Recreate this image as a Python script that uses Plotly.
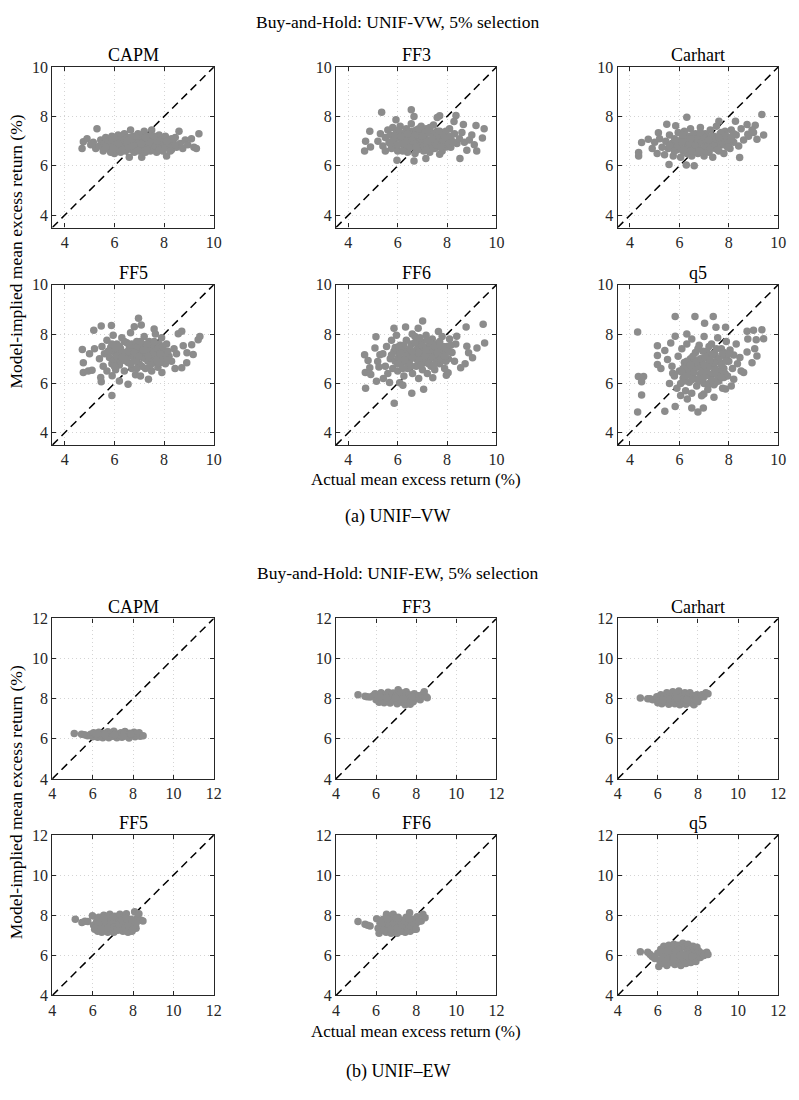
import plotly.graph_objects as go

models = ["CAPM", "FF3", "Carhart", "FF5", "FF6", "q5"]
tick_vw = [4, 6, 8, 10]
tick_ew = [4, 6, 8, 10, 12]
range_vw = [3.5, 10]
range_ew = [4, 12]

# ---------- Panel (a): UNIF-VW  (actual, model-implied) ----------
vw_capm = [(4.70,6.70),(4.75,6.98),(4.90,7.10),(5.05,6.85),(5.15,6.95),(5.30,7.50),(5.25,6.70),(5.40,6.80),(5.45,7.05),(5.55,6.60),
           (5.60,6.90),(5.65,7.15),(5.75,6.70),(5.80,7.00),(5.85,6.55),(5.90,7.20),(5.95,6.85),(6.00,6.50),(6.05,7.05),(6.10,6.75),
           (6.15,7.25),(6.20,6.95),(6.25,6.55),(6.30,7.10),(6.35,6.80),(6.40,7.30),(6.45,6.60),(6.50,6.95),(6.55,7.15),(6.60,6.35),
           (6.62,6.70),(6.65,7.45),(6.70,6.90),(6.75,7.20),(6.80,6.55),(6.85,7.00),(6.90,6.75),(6.95,7.30),(7.00,6.60),(7.05,6.95),
           (7.10,6.35),(7.10,7.15),(7.15,6.80),(7.20,7.40),(7.25,6.55),(7.30,7.00),(7.35,6.75),(7.40,7.20),(7.45,6.60),(7.50,7.45),
           (7.55,6.90),(7.60,6.70),(7.65,7.10),(7.70,6.55),(7.75,6.95),(7.80,7.25),(7.85,6.75),(7.90,7.05),(7.95,6.60),(8.00,6.90),
           (8.05,7.20),(8.10,6.40),(8.15,6.80),(8.20,7.05),(8.30,6.65),(8.35,6.95),(8.45,7.15),(8.50,6.75),(8.60,7.40),(8.65,6.90),
           (8.75,6.70),(8.85,7.05),(8.95,6.85),(9.10,7.10),(9.20,6.75),(9.30,6.70),(9.40,7.30),
           (6.00,6.90),(6.30,6.85),(6.60,7.05),(6.90,7.10),(7.20,6.70),(7.50,6.85),(7.80,6.85),(6.40,6.65),(7.00,6.85),(6.70,6.65),
           (7.30,6.85),(5.70,6.85),
           (5.65,6.75),(5.90,7.05),(6.05,6.70),(6.20,7.15),(6.30,6.62),(6.45,6.95),(6.55,6.75),(6.70,7.10),(6.80,6.80),(6.95,6.62),
           (7.05,7.20),(7.20,6.92),(7.30,6.65),(7.45,7.00),(7.55,7.20),(7.65,6.80),(7.80,6.65),(7.90,6.95),(8.05,6.72),(8.20,6.90),
           (8.30,7.10),(8.45,6.85),(6.15,6.90),(6.40,7.05),(6.85,7.20),(7.10,6.90),(7.40,6.95),(7.70,7.00),(8.10,7.00),(5.95,6.70),
           (6.50,7.00),(7.25,7.15),(6.00,7.15),(7.60,7.20),(8.25,6.60)]

vw_ff3 = [(5.35,8.17),(6.55,8.27),(4.66,6.60),(4.70,7.00),(4.87,7.40),(4.90,6.76),(5.97,6.23),(6.66,6.20),(7.14,6.30),(8.52,6.30),
          (8.80,6.63),(9.20,6.60),(9.50,7.50),(9.17,7.63),(8.66,7.67),(8.36,8.04),(7.70,8.03),(7.60,7.96),(8.28,7.80),(9.43,7.13),
          (7.97,6.76),(7.70,6.47),(5.93,7.87),(6.66,8.00),
          (5.20,7.00),(5.30,7.30),(5.40,6.80),(5.50,7.15),(5.50,6.60),(5.60,7.45),(5.65,6.95),(5.70,7.25),(5.75,6.70),(5.80,7.55),
          (5.85,7.05),(5.90,6.85),(5.95,7.35),(6.00,6.60),(6.05,7.15),(6.10,7.60),(6.15,6.90),(6.20,7.30),(6.25,6.70),(6.30,7.10),
          (6.35,7.50),(6.40,6.55),(6.45,6.95),(6.50,7.30),(6.55,7.70),(6.60,6.80),(6.65,7.15),(6.70,6.50),(6.75,7.45),(6.80,7.00),
          (6.85,6.70),(6.90,7.30),(6.95,7.60),(7.00,6.90),(7.05,6.60),(7.10,7.20),(7.15,7.50),(7.20,6.80),(7.25,7.05),(7.30,6.55),
          (7.35,7.35),(7.40,6.95),(7.45,7.65),(7.50,6.70),(7.55,7.15),(7.60,7.40),(7.65,6.85),(7.70,7.05),(7.80,6.60),(7.85,7.30),
          (7.90,6.90),(8.00,7.15),(8.10,7.50),(8.15,6.75),(8.20,7.00),(8.30,7.30),(8.40,6.90),(8.50,7.10),(8.60,7.35),(8.70,6.95),
          (8.90,7.05),(9.00,7.25),(9.10,6.85),
          (6.00,7.30),(6.30,6.85),(6.60,7.40),(6.90,6.95),(7.20,7.35),(7.50,7.00),(7.80,7.20),(6.40,7.15),(7.00,7.40),(7.30,6.80),
          (5.80,7.00),(6.70,6.90),(7.60,6.90),
          (5.70,6.90),(5.90,7.25),(6.00,6.85),(6.15,7.20),(6.20,6.60),(6.35,7.00),(6.45,7.40),(6.50,6.75),(6.60,7.00),(6.70,7.25),
          (6.80,6.65),(6.85,7.50),(6.95,7.10),(7.05,6.80),(7.10,7.35),(7.20,7.00),(7.30,7.55),(7.35,6.70),(7.45,7.20),(7.55,6.85),
          (7.60,7.20),(7.70,7.40),(7.75,6.75),(7.85,7.05),(7.95,7.40),(8.05,6.90),(8.15,7.20),(8.25,6.95),(6.05,7.45),(6.55,7.15),
          (7.00,7.20),(7.40,7.10),(7.90,7.15),(6.25,6.90),(6.75,6.75),(7.15,6.65),(6.40,7.30)]

vw_carhart = [(4.35,6.54),(4.35,6.40),(4.47,6.94),(4.74,7.08),(5.15,7.34),(5.49,7.68),(5.85,7.62),(6.30,7.97),(6.28,6.03),(5.58,6.05),
              (8.44,6.34),(9.34,8.08),(9.41,7.25),(9.14,7.08),(8.27,7.81),(7.60,7.81),(8.74,7.67),(9.07,7.64),(8.77,7.28),(8.94,7.45),
              (4.90,6.70),(5.00,6.95),(5.10,6.50),(5.20,7.10),(5.30,6.75),(5.40,6.45),(5.45,7.00),(5.55,6.70),(5.60,7.25),(5.70,6.90),
              (5.75,6.40),(5.80,7.10),(5.90,6.65),(5.95,7.35),(6.00,6.85),(6.05,6.35),(6.10,7.10),(6.15,6.60),(6.20,7.40),(6.25,6.95),
              (6.30,6.50),(6.35,7.20),(6.40,6.75),(6.45,7.50),(6.50,6.40),(6.55,7.00),(6.60,6.00),(6.60,6.70),(6.65,7.30),(6.70,6.90),
              (6.75,6.50),(6.80,7.15),(6.85,7.55),(6.90,6.65),(6.95,7.00),(7.00,6.40),(7.05,7.30),(7.10,6.80),(7.15,7.10),(7.20,6.55),
              (7.25,7.45),(7.30,6.90),(7.35,6.35),(7.40,7.20),(7.45,6.70),(7.50,7.60),(7.55,7.00),(7.60,6.60),(7.65,7.30),(7.70,6.85),
              (7.75,7.10),(7.80,6.50),(7.85,7.40),(7.90,6.90),(8.00,7.15),(8.05,6.70),(8.10,7.45),(8.20,6.95),(8.30,7.25),(8.40,6.80),
              (8.50,7.50),(8.60,7.05),(8.80,7.20),(9.00,7.35),
              (6.00,7.00),(6.30,6.80),(6.60,7.05),(6.90,7.25),(7.20,6.85),(7.50,6.80),(7.80,7.10),(6.45,6.90),(7.05,6.60),(7.35,7.10),
              (5.85,6.80),(6.75,6.75),
              (5.60,6.80),(5.80,6.60),(5.90,7.00),(6.05,6.70),(6.10,6.95),(6.20,6.65),(6.30,7.15),(6.40,6.90),(6.50,6.60),(6.55,7.25),
              (6.65,6.85),(6.70,7.10),(6.80,6.60),(6.90,6.95),(7.00,7.15),(7.05,6.80),(7.15,6.95),(7.25,6.70),(7.30,7.20),(7.40,6.90),
              (7.50,7.10),(7.55,6.65),(7.65,7.00),(7.70,7.35),(7.80,6.85),(7.90,7.20),(8.00,6.90),(8.10,7.10),(8.20,7.30),(6.15,7.25),
              (6.85,7.35),(7.20,7.05),(7.60,7.15),(6.45,7.10),(7.95,6.75)]

vw_ff5 = [(4.71,7.37),(4.75,6.84),(4.75,6.44),(4.95,6.50),(5.10,6.53),(5.17,8.15),(5.47,8.33),(5.45,6.24),(5.47,6.07),(5.90,5.51),
          (5.91,6.31),(6.55,5.97),(6.97,8.64),(7.08,8.37),(7.37,6.17),(7.91,6.44),(8.44,6.60),(8.71,6.63),(8.57,8.01),(8.71,8.11),
          (8.77,7.53),(9.11,7.57),(9.17,7.17),(8.91,6.84),(9.37,7.77),(9.44,7.90),(8.92,7.24),(5.88,8.35),(5.00,7.20),(5.20,7.40),
          (6.20,6.10),(6.80,8.30),(7.60,8.20),
          (5.40,7.00),(5.50,7.50),(5.55,6.70),(5.60,7.20),(5.70,7.75),(5.70,6.50),(5.80,7.05),(5.85,7.45),(5.90,6.80),(5.95,7.95),
          (6.00,7.25),(6.05,6.55),(6.10,7.60),(6.15,7.00),(6.20,6.75),(6.25,7.40),(6.30,7.85),(6.35,6.95),(6.40,6.50),(6.45,7.25),
          (6.50,7.65),(6.55,6.85),(6.60,7.10),(6.65,8.05),(6.70,6.60),(6.75,7.45),(6.80,7.00),(6.85,6.35),(6.90,7.70),(6.95,7.25),
          (7.00,6.80),(7.05,6.30),(7.10,7.55),(7.15,7.05),(7.20,7.90),(7.25,6.60),(7.30,7.30),(7.35,6.90),(7.40,7.70),(7.45,7.15),
          (7.50,6.50),(7.55,7.45),(7.60,6.85),(7.65,8.00),(7.70,7.20),(7.75,6.65),(7.80,7.60),(7.85,7.00),(7.90,7.85),(8.00,7.30),
          (8.05,6.80),(8.10,7.60),(8.20,7.10),(8.30,6.90),(8.40,7.40),(8.50,7.20),
          (6.00,6.95),(6.30,7.20),(6.60,7.40),(6.90,7.00),(7.20,7.20),(7.50,7.00),(7.80,7.30),(6.45,7.00),(7.05,7.40),(7.35,7.55),
          (6.75,7.20),(7.65,7.10),(6.15,7.30),(7.95,7.10),
          (5.75,7.30),(5.90,7.60),(6.00,6.70),(6.10,7.10),(6.20,7.50),(6.25,6.90),(6.35,7.25),(6.40,7.70),(6.50,6.90),(6.55,7.30),
          (6.65,6.80),(6.70,7.60),(6.80,7.25),(6.85,6.90),(6.95,7.50),(7.00,7.10),(7.10,6.70),(7.15,7.35),(7.25,7.00),(7.30,7.60),
          (7.40,7.30),(7.45,6.75),(7.55,7.20),(7.60,7.70),(7.70,6.95),(7.75,7.40),(7.85,7.20),(7.95,7.50),(8.10,6.95),(8.15,7.30),
          (6.05,7.45),(6.60,7.55),(7.05,7.70),(7.35,7.10),(7.85,6.85),(6.30,7.05),(6.90,6.60)]

vw_ff6 = [(4.66,7.16),(4.69,6.44),(4.70,5.80),(4.80,6.93),(4.87,6.63),(4.91,6.36),(5.12,7.89),(5.08,7.43),(5.19,6.89),(5.24,6.67),
          (5.28,7.16),(5.14,6.09),(5.42,6.20),(5.67,6.04),(5.85,8.23),(6.32,8.29),(5.86,5.20),(6.08,6.03),(6.21,5.93),(6.57,5.60),
          (7.05,5.76),(7.01,8.53),(6.83,8.23),(6.59,8.00),(8.77,8.29),(9.46,8.40),(9.52,7.64),(9.21,7.43),(8.80,7.51),(9.03,7.04),
          (8.73,6.80),(8.55,6.63),(7.97,6.33),(8.04,6.43),(7.42,6.23),(8.39,7.91),(8.87,7.24),
          (5.40,7.20),(5.50,6.70),(5.55,7.50),(5.60,6.40),(5.70,7.00),(5.75,7.75),(5.80,6.60),(5.85,7.30),(5.90,6.90),(5.95,7.95),
          (6.00,6.50),(6.05,7.15),(6.10,7.55),(6.15,6.80),(6.20,7.35),(6.25,6.30),(6.30,7.00),(6.35,7.75),(6.40,6.60),(6.45,7.20),
          (6.50,6.95),(6.55,7.60),(6.60,6.40),(6.65,7.05),(6.70,7.90),(6.75,6.70),(6.80,7.40),(6.85,6.20),(6.90,7.10),(6.95,7.70),
          (7.00,6.55),(7.05,7.25),(7.10,6.85),(7.15,7.95),(7.20,6.40),(7.25,7.50),(7.30,7.00),(7.35,6.70),(7.40,7.80),(7.45,7.20),
          (7.50,6.55),(7.55,7.60),(7.60,7.05),(7.65,8.10),(7.70,6.80),(7.75,7.40),(7.80,7.90),(7.85,7.10),(7.90,6.60),(8.00,7.50),
          (8.05,7.00),(8.10,7.80),(8.20,7.25),(8.30,6.90),(8.35,7.60),
          (6.00,7.00),(6.30,7.30),(6.60,7.20),(6.90,7.45),(7.20,7.15),(7.50,7.30),(7.80,7.25),(6.45,6.75),(7.05,6.95),(7.35,7.35),
          (6.75,7.10),(7.65,7.50),(6.15,7.00),(7.95,7.30),
          (5.75,7.15),(5.90,7.45),(6.00,6.80),(6.10,7.25),(6.20,6.60),(6.25,7.55),(6.35,7.10),(6.40,6.85),(6.50,7.40),(6.55,6.70),
          (6.65,7.30),(6.70,7.65),(6.80,6.95),(6.85,7.25),(6.95,6.75),(7.00,7.55),(7.10,7.10),(7.15,7.35),(7.25,6.80),(7.30,7.65),
          (7.40,7.05),(7.50,7.50),(7.55,6.85),(7.60,7.25),(7.70,7.70),(7.75,7.00),(7.85,7.50),(7.95,6.90),(8.05,7.30),(8.15,7.55),
          (6.05,7.50),(6.60,7.05),(7.20,7.75),(7.45,6.75),(7.90,7.10),(6.30,6.95),(6.90,7.85)]

vw_q5 = [(4.31,8.08),(4.34,6.28),(4.47,6.07),(4.31,4.84),(4.47,5.53),(4.55,6.28),(5.11,7.53),(5.11,7.13),(5.11,6.77),(5.25,6.60),
         (5.41,7.33),(5.65,7.64),(5.41,4.87),(5.83,8.71),(5.83,7.91),(5.83,5.07),(6.30,8.00),(6.63,8.71),(7.02,8.44),(7.37,8.71),
         (6.32,5.37),(6.50,5.00),(6.75,4.84),(6.97,5.00),(6.99,5.57),(7.40,5.44),(7.48,8.27),(7.87,8.27),(8.20,6.17),(8.60,6.44),
         (8.74,7.27),(8.74,8.11),(8.77,7.80),(9.00,8.15),(9.05,7.40),(9.14,7.11),(8.94,6.84),(9.34,8.17),(9.41,7.81),(9.11,7.77),
         (7.87,5.77),(7.80,6.24),(7.46,6.04),(5.73,6.41),(5.52,6.97),(6.05,5.51),
         (5.60,6.00),(5.70,6.70),(5.80,6.30),(5.90,5.80),(5.95,7.10),(6.00,6.50),(6.05,6.00),(6.10,7.40),(6.15,6.20),(6.20,6.85),
         (6.25,5.70),(6.30,7.60),(6.35,6.40),(6.40,6.05),(6.45,7.00),(6.50,5.60),(6.50,7.80),(6.55,6.60),(6.60,6.20),(6.65,7.25),
         (6.70,5.90),(6.75,6.80),(6.80,7.55),(6.85,6.35),(6.90,5.50),(6.95,7.00),(7.00,6.00),(7.00,7.90),(7.05,6.60),(7.10,7.30),
         (7.15,5.75),(7.20,6.90),(7.25,6.30),(7.30,7.60),(7.35,6.70),(7.40,5.95),(7.45,7.15),(7.50,6.45),(7.55,7.85),(7.60,6.10),
         (7.65,6.85),(7.70,7.40),(7.75,5.80),(7.80,6.60),(7.85,7.10),(7.90,7.70),(7.95,6.30),(8.00,6.90),(8.05,7.35),(8.10,5.90),
         (8.15,6.60),(8.20,7.15),(8.30,7.60),(8.35,6.80),(8.45,7.05),(8.50,6.50),
         (6.30,6.70),(6.60,6.95),(6.90,6.70),(7.20,7.50),(7.50,6.90),(7.80,7.25),(6.45,6.35),(7.05,6.30),(7.35,6.40),(6.75,7.40),
         (7.65,6.50),(6.15,6.60),(7.95,6.95),(7.20,6.00),(6.80,6.10),
         (6.10,6.45),(6.20,6.10),(6.30,6.90),(6.40,6.50),(6.50,6.15),(6.55,7.10),(6.60,6.45),(6.70,6.65),(6.75,6.15),(6.85,7.00),
         (6.90,6.45),(6.95,7.30),(7.00,6.75),(7.10,6.50),(7.15,7.10),(7.25,6.70),(7.30,6.15),(7.35,7.20),(7.45,6.60),(7.50,7.40),
         (7.55,6.30),(7.60,7.00),(7.70,6.75),(7.75,7.20),(7.85,6.40),(7.90,6.90),(8.00,7.20),(6.25,6.30),(6.65,6.85),(7.05,7.05),
         (7.40,6.85),(7.70,6.25),(6.45,6.75),(7.25,6.95),(6.95,6.20)]

# ---------- Panel (b): UNIF-EW ----------
ew_capm = [(5.09,6.26),(5.45,6.22),(5.60,6.20),(5.75,6.15),(5.90,6.22),(6.00,6.10),(6.05,6.30),(6.15,6.20),(6.25,6.08),(6.30,6.32),
           (6.40,6.18),(6.50,6.05),(6.55,6.28),(6.65,6.15),(6.75,6.35),(6.80,6.05),(6.90,6.22),(7.00,6.12),(7.05,6.38),(7.15,6.25),
           (7.20,6.05),(7.30,6.18),(7.40,6.30),(7.45,6.08),(7.55,6.22),(7.60,6.36),(7.70,6.12),(7.80,6.04),(7.85,6.28),(7.95,6.18),
           (8.05,6.32),(8.10,6.10),(8.20,6.22),(8.30,6.30),(8.35,6.12),(8.50,6.15),(6.20,6.25),(6.60,6.22),(7.10,6.20),(7.50,6.15),
           (7.90,6.24)]

ew_ff3 = [(5.10,8.20),(5.45,8.12),(5.55,8.10),(5.70,8.08),(5.85,8.14),(5.95,8.25),(6.00,7.95),(6.10,8.15),(6.15,7.82),(6.25,8.30),
          (6.30,8.00),(6.40,7.80),(6.45,8.20),(6.55,7.95),(6.60,8.32),(6.70,7.78),(6.75,8.10),(6.85,8.28),(6.90,7.90),(7.00,8.15),
          (7.05,7.75),(7.10,8.45),(7.15,8.00),(7.25,8.30),(7.30,7.82),(7.40,8.10),(7.45,7.70),(7.50,8.35),(7.55,7.95),(7.65,8.20),
          (7.70,7.72),(7.75,8.05),(7.85,7.85),(7.90,8.25),(8.00,8.00),(8.10,8.15),(8.20,7.95),(8.30,8.20),(8.40,8.35),(8.50,8.10),
          (8.55,8.05),(6.50,8.05),(6.95,8.05),(7.35,8.00),(7.80,8.10),(6.20,8.10)]

ew_carhart = [(5.13,8.03),(5.50,8.00),(5.62,8.00),(5.75,7.95),(5.95,8.10),(6.00,7.80),(6.05,7.95),(6.15,8.20),(6.20,7.75),(6.30,8.05),
              (6.40,7.85),(6.45,8.30),(6.55,7.72),(6.60,8.10),(6.70,7.90),(6.75,8.35),(6.85,7.75),(6.90,8.15),(7.00,7.95),(7.05,8.38),
              (7.10,7.70),(7.20,8.10),(7.30,7.85),(7.35,8.30),(7.40,7.72),(7.50,8.05),(7.60,8.30),(7.65,7.80),(7.75,8.15),(7.80,7.70),
              (7.85,8.00),(7.95,8.20),(8.00,7.85),(8.10,8.05),(8.20,8.20),(8.30,8.10),(8.40,8.30),(8.50,8.25),(6.50,8.00),(6.95,8.05),
              (7.45,7.95),(7.90,7.95),(6.25,7.95)]

ew_ff5 = [(5.14,7.80),(5.47,7.64),(5.62,7.70),(5.76,7.69),(5.99,7.97),(6.05,7.50),(6.10,7.30),(6.20,7.70),(6.25,7.20),(6.30,7.90),
          (6.35,7.45),(6.45,7.15),(6.50,7.65),(6.55,8.00),(6.60,7.35),(6.70,7.80),(6.75,7.15),(6.80,7.55),(6.85,8.05),(6.90,7.30),
          (7.00,7.70),(7.05,7.15),(7.10,7.95),(7.15,7.45),(7.25,7.25),(7.30,7.80),(7.35,8.05),(7.40,7.50),(7.50,7.20),(7.55,7.90),
          (7.60,7.60),(7.67,8.08),(7.70,7.30),(7.75,7.15),(7.80,7.70),(7.90,7.45),(7.95,7.20),(8.05,7.60),(8.08,8.17),(8.15,7.35),
          (8.20,7.85),(8.29,8.08),(8.40,7.75),(8.49,7.72),(6.40,7.60),(6.95,7.50),(7.20,7.65),(7.45,7.40),(7.85,7.55),(6.65,7.55),
          (6.15,7.55),
          (6.20,7.40),(6.40,7.30),(6.60,7.70),(6.75,7.35),(6.90,7.70),(7.05,7.40),(7.20,7.30),(7.30,7.55),(7.45,7.75),(7.60,7.35),
          (7.75,7.50),(7.90,7.80),(8.00,7.30),(8.15,7.60),(6.30,7.65),(6.55,7.85),(7.00,7.90),(7.65,7.85)]

ew_ff6 = [(5.10,7.69),(5.45,7.55),(5.58,7.50),(5.70,7.47),(6.03,7.83),(6.10,7.35),(6.15,7.10),(6.20,7.60),(6.30,7.25),(6.35,7.80),
          (6.40,7.45),(6.50,7.15),(6.52,8.05),(6.55,7.65),(6.60,7.30),(6.70,7.85),(6.75,7.10),(6.80,7.50),(6.85,8.05),(6.90,7.25),
          (7.00,7.70),(7.05,7.10),(7.10,7.90),(7.15,7.40),(7.25,7.20),(7.30,7.75),(7.35,7.55),(7.45,7.15),(7.50,7.90),(7.55,7.40),
          (7.60,7.65),(7.67,8.13),(7.70,7.20),(7.80,7.50),(7.85,7.80),(7.90,7.30),(8.00,7.60),(8.05,7.93),(8.25,7.72),(8.33,8.05),
          (8.44,7.88),(6.45,7.55),(6.95,7.45),(7.20,7.55),(7.65,7.40),(6.25,7.50),
          (6.20,7.35),(6.40,7.25),(6.60,7.55),(6.75,7.30),(6.90,7.60),(7.05,7.35),(7.20,7.30),(7.30,7.50),(7.45,7.70),(7.60,7.25),
          (7.75,7.45),(7.90,7.60),(8.00,7.30),(8.15,7.70),(6.30,7.60),(6.55,7.80),(7.00,7.85),(7.65,7.80)]

ew_q5 = [(5.13,6.18),(5.50,6.15),(5.62,6.05),(5.72,5.95),(5.85,5.85),(6.00,6.10),(6.05,5.45),(6.10,5.75),(6.15,6.30),(6.20,5.60),
         (6.25,6.00),(6.30,6.45),(6.35,5.70),(6.40,6.20),(6.45,5.50),(6.50,5.90),(6.55,6.50),(6.60,6.10),(6.65,5.65),(6.70,6.35),
         (6.75,5.85),(6.80,6.55),(6.85,5.55),(6.90,6.20),(6.95,5.95),(7.00,6.50),(7.05,5.70),(7.10,6.30),(7.15,5.50),(7.20,6.05),
         (7.25,6.60),(7.30,5.80),(7.35,6.40),(7.40,5.60),(7.45,6.15),(7.50,6.55),(7.55,5.90),(7.60,6.30),(7.65,5.65),(7.70,6.10),
         (7.75,6.45),(7.80,5.85),(7.85,6.25),(7.90,5.70),(7.95,6.40),(8.00,6.00),(8.05,6.20),(8.12,5.90),(8.20,6.10),(8.30,6.00),
         (8.44,6.15),(8.50,6.05),(6.50,6.20),(6.80,5.90),(7.10,6.00),(7.40,6.00),(7.70,5.95)]

panels = [
    dict(data=[vw_capm, vw_ff3, vw_carhart, vw_ff5, vw_ff6, vw_q5], rng=range_vw, ticks=tick_vw,
         title="Buy-and-Hold: UNIF-VW, 5% selection", caption="(a) UNIF\u2013VW", xlab_off=35, cap_off=72),
    dict(data=[ew_capm, ew_ff3, ew_carhart, ew_ff5, ew_ff6, ew_q5], rng=range_ew, ticks=tick_ew,
         title="Buy-and-Hold: UNIF-EW, 5% selection", caption="(b) UNIF\u2013EW", xlab_off=37, cap_off=77),
]

W, H = 799, 1100
col_px = [(49, 213), (337, 500), (623, 786)]
row_px = [(60, 223), (281, 444), (620, 783), (840, 1003)]
FONT = "Liberation Serif"
AXC = "#262626"
MK = "#8c8c8c"

fig = go.Figure()
layout = dict(width=W, height=H, margin=dict(l=0, r=0, t=0, b=0), showlegend=False,
              paper_bgcolor="white", plot_bgcolor="white", font=dict(family=FONT, size=16, color=AXC))
annotations = []

def py(p):
    return 1 - p / H

k = 0
for p, panel in enumerate(panels):
    lo, hi = panel["rng"]
    for i, pts in enumerate(panel["data"]):
        k += 1
        r = p * 2 + i // 3
        c = i % 3
        xa = "x" if k == 1 else f"x{k}"
        ya = "y" if k == 1 else f"y{k}"
        fig.add_trace(go.Scatter(x=[lo, hi], y=[lo, hi], mode="lines", xaxis=xa, yaxis=ya,
                                 line=dict(color="black", width=1.5, dash="8px,5px"), hoverinfo="skip"))
        fig.add_trace(go.Scatter(x=[q[0] for q in pts], y=[q[1] for q in pts], mode="markers", xaxis=xa, yaxis=ya,
                                 marker=dict(color=MK, size=7.5, line=dict(width=0))))
        axcommon = dict(range=[lo, hi], tickvals=panel["ticks"], showgrid=True, gridcolor="#d4d4d4",
                        griddash="1px,3px", gridwidth=1, zeroline=False, showline=True, linecolor=AXC,
                        linewidth=1.2, mirror="ticks", ticks="inside", ticklen=4, tickcolor=AXC, tickwidth=1,
                        tickfont=dict(family=FONT, size=16, color=AXC))
        layout["xaxis" if k == 1 else f"xaxis{k}"] = dict(axcommon, domain=[col_px[c][0] / W, col_px[c][1] / W],
                                                           anchor=ya)
        layout["yaxis" if k == 1 else f"yaxis{k}"] = dict(axcommon, domain=[py(row_px[r][1]), py(row_px[r][0])],
                                                           anchor=xa)
        annotations.append(dict(text=models[i], x=(col_px[c][0] + col_px[c][1]) / 2 / W, y=py(row_px[r][0] - 12),
                                xref="paper", yref="paper", showarrow=False, xanchor="center", yanchor="middle",
                                font=dict(family=FONT, size=18, color="black")))
    top = row_px[p * 2][0]
    bot = row_px[p * 2 + 1][1]
    annotations.append(dict(text=panel["title"], x=400 / W, y=py(top - 46), xref="paper", yref="paper",
                            showarrow=False, xanchor="center", yanchor="middle",
                            font=dict(family=FONT, size=17.5, color="black")))
    annotations.append(dict(text="Actual mean excess return (%)", x=(col_px[1][0] + col_px[1][1]) / 2 / W,
                            y=py(bot + panel["xlab_off"]), xref="paper", yref="paper", showarrow=False,
                            xanchor="center", yanchor="middle", font=dict(family=FONT, size=17, color="black")))
    annotations.append(dict(text="Model-implied mean excess return (%)", x=12 / W, y=py((top + bot) / 2 - 4.5),
                            xref="paper", yref="paper", showarrow=False, textangle=-90, xanchor="center",
                            yanchor="middle", font=dict(family=FONT, size=17.5, color="black")))
    annotations.append(dict(text=panel["caption"], x=400 / W, y=py(bot + panel["cap_off"]), xref="paper",
                            yref="paper", showarrow=False, xanchor="center", yanchor="middle",
                            font=dict(family=FONT, size=18, color="black")))

layout["annotations"] = annotations
fig.update_layout(**layout)
fig.write_html("out.html")
